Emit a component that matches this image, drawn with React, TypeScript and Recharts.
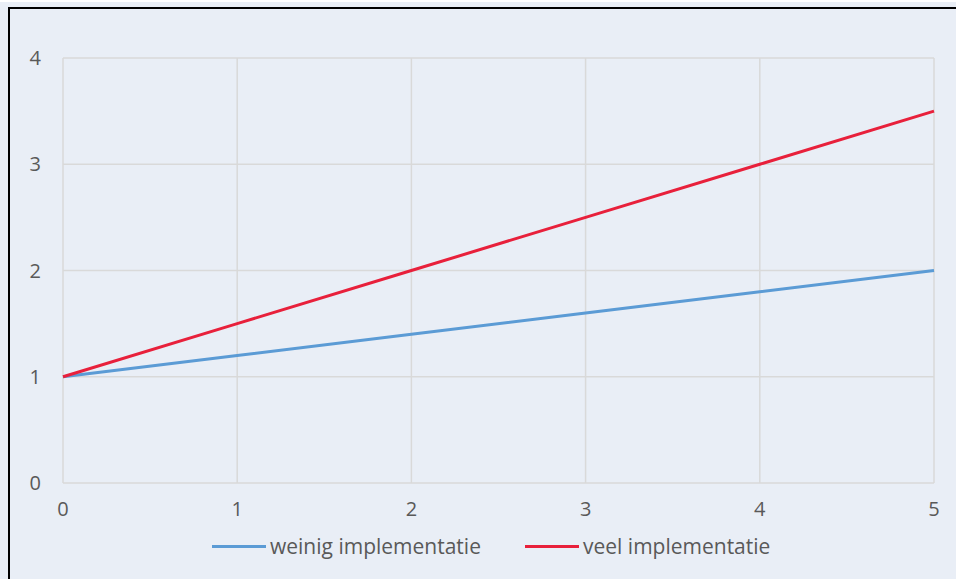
import React from 'react';
import { LineChart, Line, XAxis, YAxis, CartesianGrid, Legend } from 'recharts';

const xValues = [0, 1, 2, 3, 4, 5];
const weinig = [1, 1.2, 1.4, 1.6, 1.8, 2];
const veel = [1, 1.5, 2, 2.5, 3, 3.5];
const yTicks = [0, 1, 2, 3, 4];

const BLUE = '#5B9BD5';
const RED = '#E8203B';
const TEXT = '#595959';
const FONT = '"Open Sans", sans-serif';

const data = xValues.map((x, i) => ({ x, weinig: weinig[i], veel: veel[i] }));

const legendItems = [
  { label: 'weinig implementatie', color: BLUE, width: 313 },
  { label: 'veel implementatie', color: RED, width: 270 },
];

function renderLegend() {
  return (
    <div style={{ display: 'flex', fontFamily: FONT, fontSize: 21, color: TEXT, lineHeight: '26px' }}>
      {legendItems.map((it) => (
        <div key={it.label} style={{ display: 'flex', alignItems: 'center', width: it.width }}>
          <span style={{ display: 'inline-block', width: 54, height: 3, background: it.color, marginRight: 4 }} />
          <span>{it.label}</span>
        </div>
      ))}
    </div>
  );
}

export default function App() {
  return (
    <div
      style={{
        width: 948,
        height: 572,
        marginLeft: 8,
        marginTop: 5,
        boxSizing: 'border-box',
        borderLeft: '2px solid #000',
        borderTop: '2px solid #000',
        background: '#E9EEF6',
      }}
    >
      <style>{'body{margin:0;background:#E9EEF6;overflow:hidden;border-top:2px solid #fff}'}</style>
      <LineChart width={946} height={570} data={data} margin={{ top: 49, right: 22, bottom: 30, left: 13 }}>
        <CartesianGrid stroke="#D9D9D9" strokeWidth={1.5} />
        <XAxis
          dataKey="x"
          type="number"
          domain={[0, 5]}
          ticks={xValues}
          axisLine={false}
          tickLine={false}
          tickSize={0}
          tickMargin={19}
          height={40}
          tick={{ fill: TEXT, fontSize: 20, fontFamily: FONT }}
        />
        <YAxis
          domain={[0, 4]}
          ticks={yTicks}
          axisLine={false}
          tickLine={false}
          tickSize={0}
          tickMargin={22}
          width={40}
          tick={{ fill: TEXT, fontSize: 20, fontFamily: FONT }}
        />
        <Legend content={renderLegend} wrapperStyle={{ top: 524, left: 202, width: 640 }} />
        <Line dataKey="weinig" stroke={BLUE} strokeWidth={3} dot={false} isAnimationActive={false} />
        <Line dataKey="veel" stroke={RED} strokeWidth={3} dot={false} isAnimationActive={false} />
      </LineChart>
    </div>
  );
}
